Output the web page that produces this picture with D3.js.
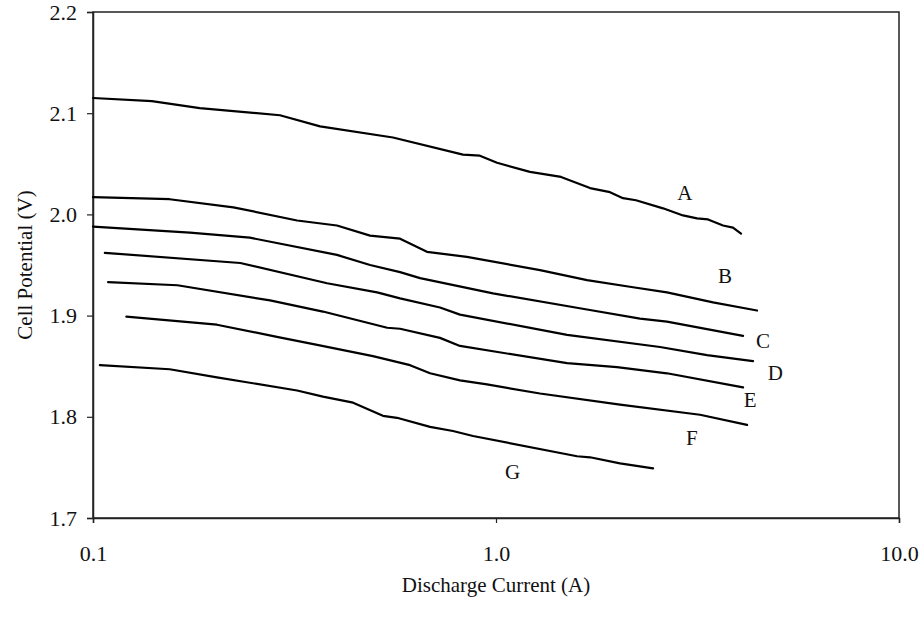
<!DOCTYPE html>
<html>
<head>
<meta charset="utf-8">
<script src="https://cdn.jsdelivr.net/npm/d3@7"></script>
<style>
  html, body { margin: 0; padding: 0; background: #fff; }
  svg { display: block; }
  text { font-family: "Liberation Serif", "Times New Roman", serif; fill: #111; }
</style>
</head>
<body>
<svg id="chart" width="922" height="617"></svg>
<script>
// Discharge current (A) and cell potential (V) for each curve
const seriesNames = ["A", "B", "C", "D", "E", "F", "G"];

const curveA = [[0.100,2.115],[0.140,2.112],[0.184,2.105],[0.291,2.098],[0.366,2.087],[0.555,2.076],[0.828,2.059],[0.912,2.058],[1.006,2.051],[1.214,2.042],[1.450,2.037],[1.711,2.026],[1.918,2.022],[2.066,2.016],[2.225,2.014],[2.597,2.006],[2.911,1.999],[3.153,1.996],[3.358,1.995],[3.659,1.989],[3.873,1.987],[4.055,1.981]];
const curveB = [[0.100,2.017],[0.155,2.015],[0.223,2.007],[0.321,1.994],[0.403,1.989],[0.487,1.979],[0.578,1.976],[0.674,1.963],[0.847,1.958],[1.286,1.945],[1.682,1.935],[2.188,1.928],[2.656,1.923],[3.455,1.913],[4.443,1.905]];
const curveC = [[0.100,1.988],[0.174,1.982],[0.245,1.977],[0.403,1.960],[0.487,1.950],[0.578,1.943],[0.648,1.937],[0.983,1.922],[1.682,1.906],[2.277,1.897],[2.656,1.894],[4.102,1.880]];
const curveD = [[0.107,1.962],[0.232,1.952],[0.381,1.932],[0.507,1.923],[0.578,1.917],[0.726,1.908],[0.814,1.901],[1.501,1.881],[2.552,1.869],[3.339,1.861],[4.343,1.855]];
const curveE = [[0.109,1.933],[0.162,1.930],[0.275,1.915],[0.372,1.904],[0.537,1.888],[0.578,1.887],[0.726,1.878],[0.814,1.870],[1.501,1.853],[1.996,1.849],[2.656,1.843],[4.102,1.829]];
const curveF = [[0.121,1.899],[0.203,1.891],[0.286,1.879],[0.360,1.871],[0.495,1.860],[0.612,1.851],[0.686,1.843],[0.814,1.836],[0.950,1.832],[1.286,1.823],[2.031,1.812],[3.208,1.802],[4.197,1.792]];
const curveG = [[0.104,1.851],[0.155,1.847],[0.203,1.839],[0.321,1.826],[0.372,1.820],[0.442,1.814],[0.524,1.801],[0.568,1.799],[0.686,1.790],[0.782,1.786],[0.877,1.781],[1.589,1.761],[1.711,1.760],[2.031,1.754],[2.453,1.749]];

const curves = [curveA, curveB, curveC, curveD, curveE, curveF, curveG];

// Where each curve's letter sits, in data units (current, potential)
const labelAnchors = [[2.94,2.021],[3.70,1.939],[4.60,1.875],[4.93,1.843],[4.27,1.817],[3.06,1.779],[1.10,1.745]];

const xTicks = [0.1, 1, 10];
const yTicks = [1.7, 1.8, 1.9, 2.0, 2.1, 2.2];

const svg = d3.select("#chart");
const margin = { left: 93, top: 12, right: 23, bottom: 99 };
const W = 922, H = 617;
const x = d3.scaleLog().domain([0.1, 10]).range([margin.left, W - margin.right]);
const y = d3.scaleLinear().domain([1.7, 2.2]).range([H - margin.bottom, margin.top]);

// Plot frame
svg.append("rect")
  .attr("x", x(0.1)).attr("y", y(2.2))
  .attr("width", x(10) - x(0.1)).attr("height", y(1.7) - y(2.2))
  .attr("fill", "none").attr("stroke", "#222").attr("stroke-width", 1.5);

// Axes
const xAxis = d3.axisBottom(x).tickValues(xTicks).tickSize(5).tickPadding(22)
  .tickFormat(d3.format(".1f"));
const yAxis = d3.axisLeft(y).tickValues(yTicks).tickSize(6).tickPadding(10)
  .tickFormat(d3.format(".1f"));

const gx = svg.append("g").attr("transform", `translate(0,${y(1.7)})`).call(xAxis);
const gy = svg.append("g").attr("transform", `translate(${x(0.1)},0)`).call(yAxis);
[gx, gy].forEach(g => {
  g.select(".domain").attr("stroke", "#222").attr("stroke-width", 1.5);
  g.selectAll(".tick line").attr("stroke", "#222").attr("stroke-width", 1.2);
  g.selectAll(".tick text")
    .style("font-family", '"Liberation Serif", "Times New Roman", serif')
    .style("font-size", "22px").attr("fill", "#111");
});

// Curves
const line = d3.line().x(d => x(d[0])).y(d => y(d[1])).curve(d3.curveLinear);
svg.append("g").selectAll("path").data(curves).join("path")
  .attr("d", line).attr("fill", "none").attr("stroke", "#000")
  .attr("stroke-width", 2.2).attr("stroke-linejoin", "round").attr("stroke-linecap", "round");

// Curve letters
svg.append("g").selectAll("text").data(seriesNames).join("text")
  .attr("x", (d, i) => x(labelAnchors[i][0]))
  .attr("y", (d, i) => y(labelAnchors[i][1]))
  .attr("text-anchor", "middle").attr("dominant-baseline", "central")
  .style("font-size", "21px").text(d => d);

// Axis titles
svg.append("text")
  .attr("x", (x(0.1) + x(10)) / 2).attr("y", 585)
  .attr("text-anchor", "middle").attr("dominant-baseline", "central")
  .style("font-size", "21px").text("Discharge Current (A)");

svg.append("text")
  .attr("transform", `translate(25,${(y(1.7) + y(2.2)) / 2}) rotate(-90)`)
  .attr("text-anchor", "middle").attr("dominant-baseline", "central")
  .style("font-size", "21px").text("Cell Potential (V)");
</script>
</body>
</html>
